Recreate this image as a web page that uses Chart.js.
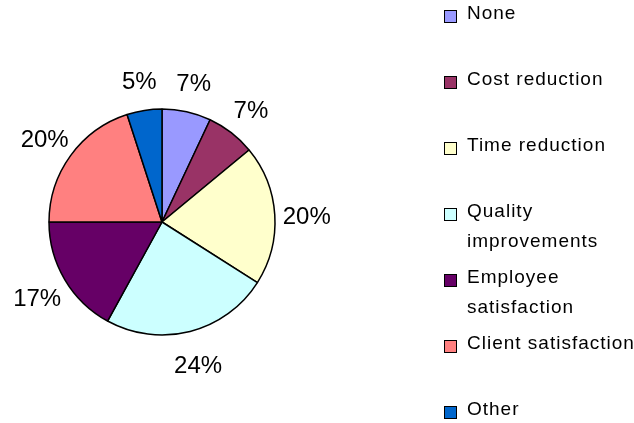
<!DOCTYPE html>
<html>
<head>
<meta charset="utf-8">
<script src="https://cdn.jsdelivr.net/npm/chart.js@4"></script>
<style>
  html, body { margin: 0; padding: 0; background: #fff; }
  #wrap { width: 634px; height: 423px; }
</style>
</head>
<body>
<div id="wrap"><canvas id="pieChart" width="634" height="423"></canvas></div>
<script>
// Chart data
const categories = ['None', 'Cost reduction', 'Time reduction', 'Quality improvements', 'Employee satisfaction', 'Client satisfaction', 'Other'];
const legendLines = [['None'], ['Cost reduction'], ['Time reduction'], ['Quality', 'improvements'], ['Employee', 'satisfaction'], ['Client satisfaction'], ['Other']];
const shares = [7, 7, 20, 24, 17, 20, 5];
const sliceColors = ['#9999FF', '#993366', '#FFFFCC', '#CCFFFF', '#660066', '#FF8080', '#0066CC'];

const FONT = '"Liberation Sans", Arial, sans-serif';

// percent labels outside each slice
const outsideLabels = {
    id: 'outsideLabels',
    afterDatasetsDraw(chart) {
        const ctx = chart.ctx;
        const meta = chart.getDatasetMeta(0);
        const total = shares.reduce((a, b) => a + b, 0);
        ctx.save();
        ctx.font = '24px ' + FONT;
        ctx.fillStyle = '#000';
        ctx.textAlign = 'center';
        ctx.textBaseline = 'middle';
        meta.data.forEach((arc, i) => {
            const p = arc.getProps(['x', 'y', 'startAngle', 'endAngle', 'outerRadius'], true);
            const mid = (p.startAngle + p.endAngle) / 2;
            const dist = p.outerRadius + 32;
            const pct = Math.round(shares[i] / total * 100) + '%';
            ctx.fillText(pct, p.x + Math.cos(mid) * dist, p.y + 4 + Math.sin(mid) * dist);
        });
        ctx.restore();
    }
};

// legend on the right, Excel style
const sideLegend = {
    id: 'sideLegend',
    afterDraw(chart) {
        const ctx = chart.ctx;
        const x = 444;
        let y = 14;
        ctx.save();
        ctx.font = '19px ' + FONT;
        ctx.letterSpacing = '1px';
        ctx.textBaseline = 'middle';
        legendLines.forEach((lines, i) => {
            ctx.fillStyle = sliceColors[i];
            ctx.fillRect(x, y - 4, 13, 13);
            ctx.strokeStyle = '#000';
            ctx.lineWidth = 1;
            ctx.strokeRect(x + 0.5, y - 3.5, 12, 12);
            ctx.fillStyle = '#000';
            lines.forEach((t, j) => {
                ctx.fillText(t, x + 23, y + j * 30);
            });
            y += 66;
        });
        ctx.restore();
    }
};

const pieChart = document.getElementById('pieChart');
new Chart(pieChart, {
    type: 'pie',
    data: {
        labels: categories,
        datasets: [{
            data: shares,
            backgroundColor: sliceColors,
            borderColor: '#000',
            borderWidth: 1.5
        }]
    },
    options: {
        responsive: false,
        animation: false,
        radius: 113,
        layout: {
            padding: { left: 20, right: 330, top: 60, bottom: 39 }
        },
        plugins: {
            legend: { display: false },
            tooltip: { enabled: false }
        }
    },
    plugins: [outsideLabels, sideLegend]
});
</script>
</body>
</html>
